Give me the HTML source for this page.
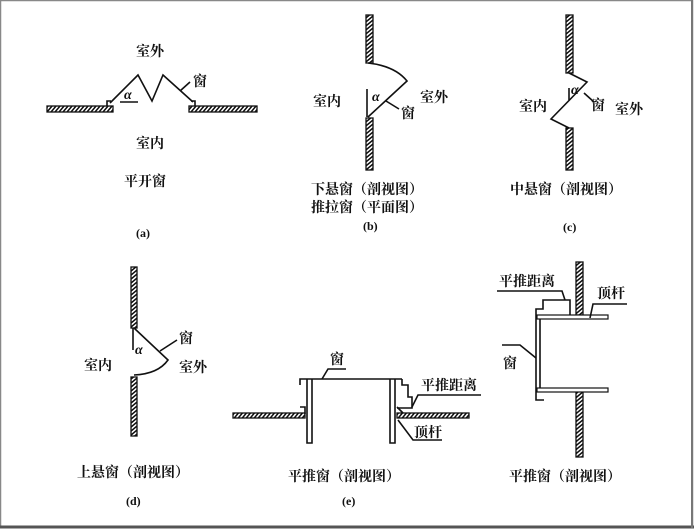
<!DOCTYPE html>
<html><head><meta charset="utf-8"><style>
html,body{margin:0;padding:0;background:#fff}
svg{display:block}
text{font-family:"Liberation Serif","Noto Serif CJK SC","Noto Sans CJK SC",serif;font-size:14px;fill:#111;font-weight:bold}
.l{stroke:#111;stroke-width:1.6;fill:none}
.w{stroke:#111;stroke-width:1.3;fill:url(#h)}
.wv{stroke:#111;stroke-width:1.3;fill:url(#hv)}
</style></head><body>
<svg width="694" height="531" viewBox="0 0 694 531" xmlns="http://www.w3.org/2000/svg">
<defs>
<pattern id="h" width="4" height="6" patternUnits="userSpaceOnUse" patternTransform="skewX(-40)"><rect width="4" height="6" fill="#fff"/><line x1="1" y1="0" x2="1" y2="6" stroke="#111" stroke-width="2"/></pattern>
<pattern id="hv" width="6" height="4" patternUnits="userSpaceOnUse" patternTransform="skewY(-40)"><rect width="6" height="4" fill="#fff"/><line x1="0" y1="1" x2="6" y2="1" stroke="#111" stroke-width="2"/></pattern>
</defs>
<rect x="0.5" y="0.5" width="692" height="527" fill="#fff" stroke="#888" stroke-width="1.5"/>
<line x1="0" y1="527" x2="694" y2="527" stroke="#555" stroke-width="3"/>
<line x1="692" y1="0" x2="692" y2="528" stroke="#777" stroke-width="2"/>

<!-- (a) -->
<rect class="w" x="47" y="106" width="66" height="6"/>
<rect class="w" x="189" y="106" width="68" height="6"/>
<path class="l" d="M107 106 V101 H111 M195 106 V101 H191"/>
<path class="l" d="M110 103 L138 75 L152 101 L163 75 L193 102"/>
<line class="l" x1="120" y1="102" x2="138" y2="102"/>
<text x="124" y="99" font-style="italic" style="font-size:14px">α</text>
<line class="l" x1="180" y1="91" x2="190" y2="82"/>
<text x="193" y="86">窗</text>
<text x="136" y="56">室外</text>
<text x="136" y="148">室内</text>
<text x="124" y="186">平开窗</text>
<text x="136" y="237" style="font-size:12px">(a)</text>

<!-- (b) -->
<rect class="wv" x="366" y="15" width="7" height="48"/>
<rect class="wv" x="366" y="118" width="7" height="52"/>
<path class="l" d="M368 63 Q395 66 407 81 L368 117"/>
<line class="l" x1="367" y1="89" x2="367" y2="117"/>
<text x="372" y="101" font-style="italic" style="font-size:14px">α</text>
<line class="l" x1="386" y1="101" x2="399" y2="109"/>
<text x="401" y="118">窗</text>
<text x="420" y="102">室外</text>
<text x="313" y="106">室内</text>
<text x="311" y="194">下悬窗（剖视图）</text>
<text x="311" y="212">推拉窗（平面图）</text>
<text x="363" y="230" style="font-size:12px">(b)</text>

<!-- (c) -->
<rect class="wv" x="566" y="15" width="7" height="58"/>
<rect class="wv" x="566" y="128" width="7" height="42"/>
<path class="l" d="M569 73 L587 82 L551 119 L569 128"/>
<line class="l" x1="569" y1="88" x2="569" y2="100"/>
<text x="571" y="94" font-style="italic" style="font-size:14px">α</text>
<line class="l" x1="584" y1="93" x2="594" y2="102"/>
<text x="591" y="110">窗</text>
<text x="615" y="114">室外</text>
<text x="519" y="111">室内</text>
<text x="510" y="194">中悬窗（剖视图）</text>
<text x="563" y="231" style="font-size:12px">(c)</text>

<!-- (d) -->
<rect class="wv" x="131" y="267" width="6" height="61"/>
<rect class="wv" x="131" y="377" width="6" height="59"/>
<path class="l" d="M134 328 L168 360 Q158 374 134 375"/>
<line class="l" x1="133" y1="328" x2="133" y2="350"/>
<text x="135" y="354" font-style="italic" style="font-size:14px">α</text>
<line class="l" x1="160" y1="351" x2="177" y2="340"/>
<text x="179" y="343">窗</text>
<text x="179" y="372">室外</text>
<text x="84" y="370">室内</text>
<text x="77" y="477">上悬窗（剖视图）</text>
<text x="126" y="505" style="font-size:12px">(d)</text>

<!-- (e) -->
<rect class="w" x="233" y="413" width="72" height="5"/>
<rect class="w" x="397" y="413" width="72" height="5"/>
<path class="l" d="M300 385 V379 H402 M307 379 V443 H312 V379 M390 379 V443 H395 V379"/>
<path class="l" d="M402 379 V385 H408 V397 H412 V408 H397"/>
<path class="l" d="M300 407 H305 V414"/>
<path class="l" d="M397 407 L403 413"/>
<path class="l" d="M322 379 L328 369 H346"/>
<text x="330" y="364">窗</text>
<path class="l" d="M412 407 L418 395 H481"/>
<text x="421" y="390">平推距离</text>
<path class="l" d="M398 420 L413 440 H442"/>
<text x="414" y="437">顶杆</text>
<text x="288" y="481">平推窗（剖视图）</text>
<text x="342" y="505" style="font-size:12px">(e)</text>

<!-- (f) -->
<rect class="wv" x="576" y="262" width="7" height="53"/>
<rect class="wv" x="576" y="391" width="7" height="66"/>
<rect x="537" y="315" width="71" height="4" fill="#fff" stroke="#111" stroke-width="1.2"/>
<rect x="537" y="388" width="71" height="4" fill="#fff" stroke="#111" stroke-width="1.2"/>
<path class="l" d="M536 395 V309 H543 V300 H570 V315 M540 319 V388"/>
<path class="l" d="M536 395 V400 H544"/>
<path class="l" d="M497 291 H562 L565 300"/>
<text x="499" y="286">平推距离</text>
<path class="l" d="M590 318 L593 304 H627"/>
<text x="597" y="298">顶杆</text>
<path class="l" d="M502 345 H520 L536 358"/>
<text x="503" y="368">窗</text>
<text x="509" y="481">平推窗（剖视图）</text>
</svg>
</body></html>
